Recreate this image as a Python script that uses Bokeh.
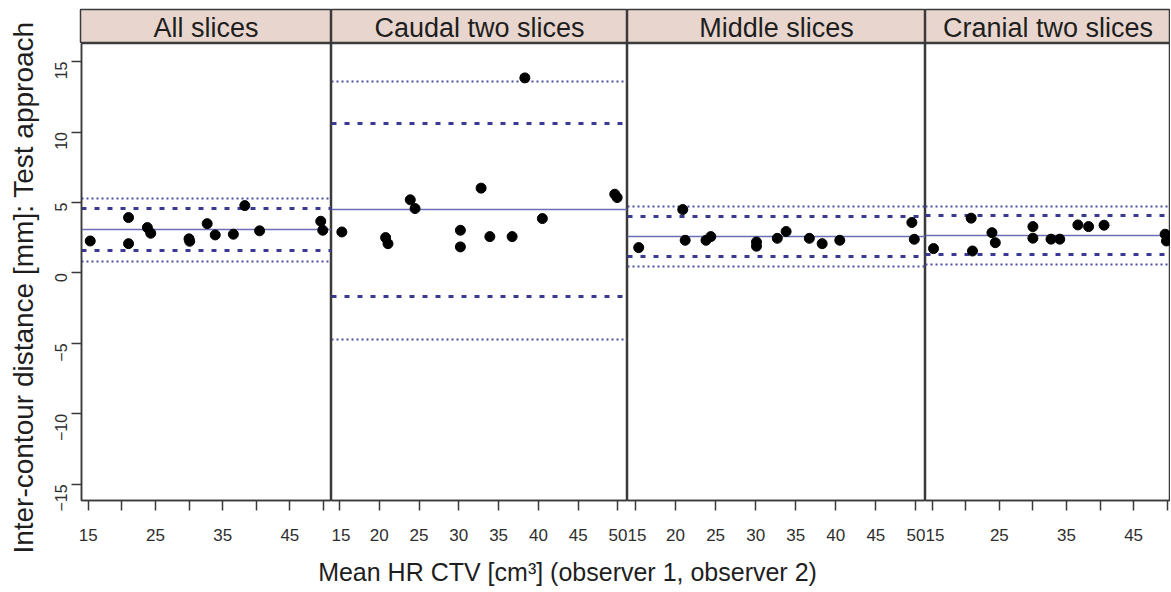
import math
from bokeh.plotting import figure
from bokeh.models import Range1d, FixedTicker
from bokeh.layouts import row, column
from bokeh.embed import file_html
from bokeh.resources import INLINE
from bokeh.core.properties import value

# ---------------- data ----------------
panel_names = ["All slices", "Caudal two slices", "Middle slices", "Cranial two slices"]

all_x = [15.3, 21.0, 21.0, 23.8, 24.3, 30.0, 30.1, 32.7, 33.9, 36.6, 38.3, 40.5, 49.6, 49.9]
all_y = [2.27, 3.93, 2.08, 3.22, 2.82, 2.42, 2.25, 3.50, 2.70, 2.75, 4.78, 2.99, 3.67, 3.03]
all_mean = 3.06
all_ci = [4.60, 1.56]
all_loa = [5.31, 0.80]

caudal_x = [15.3, 20.8, 21.1, 23.9, 24.5, 30.2, 30.2, 32.8, 33.9, 36.7, 38.3, 40.5, 49.6, 49.9]
caudal_y = [2.91, 2.51, 2.08, 5.19, 4.57, 3.03, 1.85, 6.02, 2.58, 2.58, 13.84, 3.86, 5.59, 5.35]
caudal_mean = 4.48
caudal_ci = [10.57, -1.66]
caudal_loa = [13.57, -4.71]

middle_x = [15.4, 20.9, 21.2, 23.8, 24.4, 30.1, 30.1, 32.7, 33.8, 36.7, 38.3, 40.5, 49.5, 49.8]
middle_y = [1.80, 4.50, 2.32, 2.32, 2.58, 2.20, 1.90, 2.46, 2.94, 2.46, 2.08, 2.32, 3.58, 2.39]
middle_mean = 2.58
middle_ci = [4.00, 1.14]
middle_loa = [4.74, 0.43]

cranial_x = [15.2, 20.8, 21.0, 23.9, 24.4, 30.0, 30.0, 32.7, 34.0, 36.7, 38.3, 40.6, 49.7, 49.9]
cranial_y = [1.73, 3.89, 1.56, 2.86, 2.15, 3.29, 2.47, 2.40, 2.40, 3.41, 3.29, 3.39, 2.75, 2.27]
cranial_mean = 2.68
cranial_ci = [4.10, 1.33]
cranial_loa = [4.71, 0.62]

y_ticks = [-15, -10, -5, 0, 5, 10, 15]
x_ticks_all = [15, 20, 25, 30, 35, 40, 45, 50]
x_ticks_odd = [15, 25, 35, 45]
x_ticks_even = [20, 30, 40, 50]

x_label = "Mean HR CTV [cm³] (observer 1, observer 2)"
y_label = "Inter-contour distance [mm]: Test approach"

# ---------------- styling / layout ----------------
FONT = value("Liberation Sans")
STRIP_COL = "#E8D6CE"
FRAME_COL = "#3a3a3a"
TEXT_COL = "#1e1e1e"
TICK_COL = "#2e2e2e"

y_range = (-16.14, 16.28)
x_ranges = [(14.0, 51.2), (14.0, 51.2), (14.0, 51.2), (14.0, 50.5)]
frame_w = [251, 296, 298, 245]
left_pad = 34
ylab_w = 46
strip_h = 43
strip_top = 9
panel_h = 509
panel_bottom = 52
lab_h = 38

panels = [
    (all_x, all_y, all_mean, all_ci, all_loa),
    (caudal_x, caudal_y, caudal_mean, caudal_ci, caudal_loa),
    (middle_x, middle_y, middle_mean, middle_ci, middle_loa),
    (cranial_x, cranial_y, cranial_mean, cranial_ci, cranial_loa),
]

strips = []
plots = []
for i, (name, (xs, ys, mean, ci, loa)) in enumerate(zip(panel_names, panels)):
    left = left_pad if i == 0 else 0
    w = frame_w[i] + left

    s = figure(width=w, height=strip_h, x_range=Range1d(0, 1), y_range=Range1d(0, 1),
               output_backend="svg", toolbar_location=None,
               x_axis_location=None, y_axis_location=None,
               min_border_left=left, min_border_right=0, min_border_top=strip_top,
               min_border_bottom=0)
    s.grid.visible = False
    s.background_fill_color = STRIP_COL
    s.outline_line_color = FRAME_COL
    s.outline_line_width = 1.5
    s.text(x=[0.5], y=[0.45], text=[name], text_align="center", text_baseline="middle",
           text_font=FONT, text_font_size="27px", text_color=TEXT_COL)
    strips.append(s)

    p = figure(width=w, height=panel_h, x_range=Range1d(*x_ranges[i]), y_range=Range1d(*y_range),
               output_backend="svg", toolbar_location=None,
               y_axis_location="left" if i == 0 else None,
               min_border_left=left, min_border_right=0, min_border_top=0,
               min_border_bottom=panel_bottom)
    p.grid.visible = False
    p.outline_line_color = FRAME_COL
    p.outline_line_width = 1.5

    # reference lines
    p.hspan(y=loa, line_color="#4C4CA2", line_width=2, line_dash="2 3")
    p.hspan(y=ci, line_color="#3A3A96", line_width=3, line_dash="5 8")
    p.hspan(y=[mean], line_color="#6E6EB6", line_width=1.6)

    p.scatter(x=xs, y=ys, size=10, fill_color="black", line_color="black")

    # x axis
    xa = p.xaxis[0]
    if i in (0, 3):
        xa.ticker = FixedTicker(ticks=x_ticks_odd, minor_ticks=x_ticks_even)
    else:
        xa.ticker = FixedTicker(ticks=x_ticks_all, minor_ticks=[])
    xa.major_tick_in = 0
    xa.major_tick_out = 10
    xa.minor_tick_in = 0
    xa.minor_tick_out = 10
    xa.minor_tick_line_color = FRAME_COL
    xa.minor_tick_line_width = 1.5
    xa.major_tick_line_color = FRAME_COL
    xa.major_tick_line_width = 1.5
    xa.axis_line_color = FRAME_COL
    xa.axis_line_width = 1.5
    xa.major_label_standoff = 18
    xa.major_label_text_font = "Liberation Sans"
    xa.major_label_text_font_size = "17px"
    xa.major_label_text_color = TICK_COL

    if i == 0:
        ya = p.yaxis[0]
        ya.ticker = FixedTicker(ticks=y_ticks, minor_ticks=[])
        ya.major_tick_in = 0
        ya.major_tick_out = 10
        ya.major_tick_line_color = FRAME_COL
        ya.major_tick_line_width = 1.5
        ya.axis_line_color = FRAME_COL
        ya.axis_line_width = 1.5
        ya.major_label_orientation = math.pi / 2
        ya.major_label_standoff = 10
        ya.major_label_text_font = "Liberation Sans"
        ya.major_label_text_font_size = "16px"
        ya.major_label_text_color = TICK_COL
    plots.append(p)

total_w = sum(frame_w) + left_pad

# x-axis title
lab = figure(width=total_w, height=lab_h, x_range=Range1d(0, total_w), y_range=Range1d(0, lab_h),
             output_backend="svg", toolbar_location=None,
             x_axis_location=None, y_axis_location=None, min_border=0)
lab.grid.visible = False
lab.outline_line_color = None
lab.text(x=[521], y=[lab_h - 19], text=[x_label], text_align="center", text_baseline="middle",
         text_font=FONT, text_font_size="25px", text_color=TEXT_COL)

# y-axis title
full_h = strip_h + panel_h + lab_h
ylab = figure(width=ylab_w, height=full_h, x_range=Range1d(0, ylab_w), y_range=Range1d(0, full_h),
              output_backend="svg", toolbar_location=None,
              x_axis_location=None, y_axis_location=None, min_border=0)
ylab.grid.visible = False
ylab.outline_line_color = None
ylab.text(x=[23], y=[full_h - 287], text=[y_label], angle=math.pi / 2, text_align="center",
          text_baseline="middle", text_font=FONT, text_font_size="28px", text_color=TEXT_COL)

layout = row(ylab, column(row(*strips), row(*plots), lab))

open("out.html", "w").write(file_html(layout, INLINE))
